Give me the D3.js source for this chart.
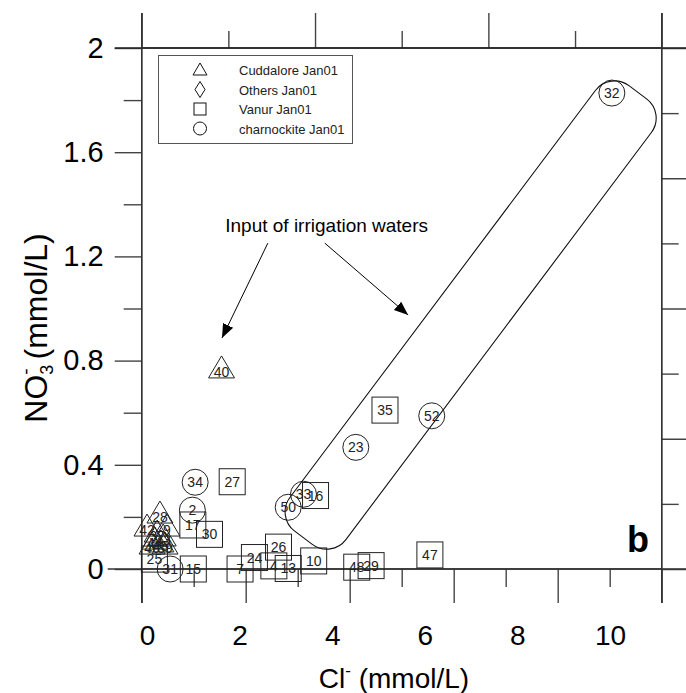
<!DOCTYPE html>
<html><head><meta charset="utf-8">
<script src="https://cdn.jsdelivr.net/npm/d3@7/dist/d3.min.js"></script>
<style>body{margin:0;background:#fff}text{font-family:"Liberation Sans",Arial,sans-serif}</style>
</head><body>
<svg id="c" width="686" height="693"></svg>
<script>
// ---- data ----
const xTickLabels = [0, 2, 4, 6, 8, 10];
const yTickLabels = [0, 0.4, 0.8, 1.2, 1.6, 2];
const legendNames = ["Cuddalore Jan01", "Others Jan01", "Vanur Jan01", "charnockite Jan01"];

// Cuddalore Jan01 (triangles)
const cuddaloreId = ["40", "28", "42", "9", "37", "43", "44", "45", "46", "39"];
const cuddaloreCl = [1.61, 0.28, 0.0, 0.43, 0.22, 0.35, 0.17, 0.30, 0.11, 0.39];
const cuddaloreNO3 = [0.768, 0.211, 0.161, 0.161, 0.138, 0.123, 0.111, 0.100, 0.092, 0.092];

// Vanur Jan01 (squares)
const vanurId = ["35", "27", "17", "30", "15", "25", "16", "26", "24", "4", "13", "10", "48", "29", "47", "7"];
const vanurCl = [5.14, 1.84, 0.99, 1.35, 1.00, 0.16, 3.64, 2.84, 2.32, 2.74, 3.05, 3.60, 4.53, 4.84, 6.11, 2.01];
const vanurNO3 = [0.610, 0.335, 0.169, 0.133, 0.0, 0.038, 0.282, 0.084, 0.044, 0.012, 0.002, 0.031, 0.007, 0.013, 0.054, 0.0];

// charnockite Jan01 (circles)
const charnId = ["32", "52", "23", "33", "50", "34", "2", "31"];
const charnCl = [10.04, 6.15, 4.51, 3.38, 3.05, 1.04, 0.98, 0.50];
const charnNO3 = [1.827, 0.588, 0.467, 0.287, 0.237, 0.333, 0.226, 0.0];

// annotation (data units)
const noteText = "Input of irrigation waters";
const notePos = [1.69, 1.294];
const arrowStarts = [[2.61, 1.251], [3.84, 1.251]];
const arrowEnds = [[1.62, 0.887], [5.64, 0.975]];
const envelopeEnds = [[3.38, 0.12], [10.6, 1.83]];

// ---- drawing ----
const svg = d3.select("#c");
const W = 686, H = 693;
// data scales (labels)
const x = d3.scaleLinear().domain([0, 10]).range([147, 610]);
const y = d3.scaleLinear().domain([0, 2]).range([569, 48]);
// frame tick scales
const xFrame = d3.scaleLinear().domain([0, 10]).range([141.7, 661.7]);
const xTop = d3.scaleLinear().domain([0, 6]).range([141.7, 661.7]);
const yRight = d3.scaleLinear().domain([0, 8]).range([569, 48]);
const L0 = xFrame(0), R0 = xFrame(10), T0 = y(2), B0 = y(0);

const tickCol = "#444";
function styleAxis(g, showText, fs) {
  g.select(".domain").remove();
  g.selectAll(".tick line").attr("stroke", tickCol).attr("stroke-width", 1.4);
  if (!showText) g.selectAll(".tick text").remove();
  else g.selectAll(".tick text").attr("fill", "#000").style("font-size", fs + "px").style("font-family", "'Liberation Sans',Arial,sans-serif");
}
// bottom frame ticks
svg.append("g").attr("transform", `translate(0,${B0})`)
  .call(d3.axisBottom(xFrame).tickValues([1, 3, 5, 7, 9]).tickSize(18).tickFormat(""))
  .call(g => styleAxis(g, false));
svg.append("g").attr("transform", `translate(0,${B0})`)
  .call(d3.axisBottom(xFrame).tickValues([0, 2, 4, 6, 8, 10]).tickSize(34).tickFormat(""))
  .call(g => styleAxis(g, false));
// bottom labels
svg.append("g").attr("transform", `translate(0,${B0})`)
  .call(d3.axisBottom(x).tickValues(xTickLabels).tickSize(0).tickPadding(56).tickFormat(d3.format("d")))
  .call(g => styleAxis(g, true, 28));
// left
svg.append("g").attr("transform", `translate(${L0},0)`)
  .call(d3.axisLeft(y).tickValues(d3.range(0.2, 2, 0.4)).tickSize(18).tickFormat(""))
  .call(g => styleAxis(g, false));
svg.append("g").attr("transform", `translate(${L0},0)`)
  .call(d3.axisLeft(y).tickValues(yTickLabels).tickSize(27).tickPadding(11).tickFormat(d => d === 0 || d === 2 ? d3.format("d")(d) : d3.format(".1f")(d)))
  .call(g => styleAxis(g, true, 29));
// top
svg.append("g").attr("transform", `translate(0,${T0})`)
  .call(d3.axisTop(xTop).tickValues([1, 3, 5]).tickSize(17).tickFormat(""))
  .call(g => styleAxis(g, false));
svg.append("g").attr("transform", `translate(0,${T0})`)
  .call(d3.axisTop(xTop).tickValues([0, 2, 4, 6]).tickSize(35).tickFormat(""))
  .call(g => styleAxis(g, false));
// right
svg.append("g").attr("transform", `translate(${R0},0)`)
  .call(d3.axisRight(yRight).tickValues([1, 3, 5, 7]).tickSize(17).tickFormat(""))
  .call(g => styleAxis(g, false));
svg.append("g").attr("transform", `translate(${R0},0)`)
  .call(d3.axisRight(yRight).tickValues([0, 2, 4, 6, 8]).tickSize(35).tickFormat(""))
  .call(g => styleAxis(g, false));
// frame
svg.append("rect").attr("x", L0).attr("y", T0).attr("width", R0 - L0).attr("height", B0 - T0)
  .attr("fill", "none").attr("stroke", "#222").attr("stroke-width", 1.4);
svg.append("line").attr("x1", L0 - 34).attr("x2", W).attr("y1", B0).attr("y2", B0).attr("stroke", "#333").attr("stroke-width", 1.4);
svg.append("line").attr("x1", L0 - 27).attr("x2", W).attr("y1", T0).attr("y2", T0).attr("stroke", "#222").attr("stroke-width", 1.4);
svg.append("line").attr("x1", L0).attr("x2", L0).attr("y1", T0 - 35).attr("y2", B0 + 34).attr("stroke", "#333").attr("stroke-width", 1.4);
svg.append("line").attr("x1", R0).attr("x2", R0).attr("y1", T0 - 35).attr("y2", B0 + 34).attr("stroke", "#333").attr("stroke-width", 1.4);

// axis titles
const xt = svg.append("text").attr("x", 394).attr("y", 688).attr("text-anchor", "middle").style("font-size", "28px");
xt.append("tspan").text("Cl");
xt.append("tspan").text("-").style("font-size", "17px").attr("dy", "-12");
xt.append("tspan").text(" (mmol/L)").attr("dy", "12");

const yt = svg.append("text").attr("transform", `translate(47,328) rotate(-90)`).attr("text-anchor", "middle").style("font-size", "32px");
yt.append("tspan").text("NO");
yt.append("tspan").text("3").style("font-size", "18px").attr("dy", "6");
yt.append("tspan").text("-").style("font-size", "19px").attr("dy", "-21").attr("dx", "-10");
yt.append("tspan").text(" (mmol/L)").attr("dy", "15");

// envelope
{
  const p1 = [x(envelopeEnds[0][0]), y(envelopeEnds[0][1])];
  const p2 = [x(envelopeEnds[1][0]), y(envelopeEnds[1][1])];
  const L = Math.hypot(p2[0] - p1[0], p2[1] - p1[1]);
  const ang = Math.atan2(p2[1] - p1[1], p2[0] - p1[0]) * 180 / Math.PI;
  const cx = (p1[0] + p2[0]) / 2, cy = (p1[1] + p2[1]) / 2;
  svg.append("rect").attr("x", -L / 2).attr("y", -35).attr("width", L).attr("height", 70).attr("rx", 24)
    .attr("transform", `translate(${cx},${cy}) rotate(${ang})`)
    .attr("fill", "none").attr("stroke", "#111").attr("stroke-width", 1.1);
}

// annotation
svg.append("defs").append("marker").attr("id", "ah").attr("viewBox", "0 0 10 10").attr("refX", 10).attr("refY", 5)
  .attr("markerWidth", 14).attr("markerHeight", 14).attr("markerUnits", "userSpaceOnUse").attr("orient", "auto")
  .append("path").attr("d", "M0,1 L10,5 L0,9 Z").attr("fill", "#000");
svg.append("text").attr("x", x(notePos[0])).attr("y", y(notePos[1])).style("font-size", "19px").text(noteText);
arrowStarts.forEach((s, i) => {
  svg.append("line").attr("x1", x(s[0])).attr("y1", y(s[1])).attr("x2", x(arrowEnds[i][0])).attr("y2", y(arrowEnds[i][1]))
    .attr("stroke", "#000").attr("stroke-width", 1).attr("marker-end", "url(#ah)");
});

// markers
const mk = "#222";
const vanur = vanurId.map((id, i) => ({ id, cx: x(vanurCl[i]), cy: y(vanurNO3[i]) }));
const charn = charnId.map((id, i) => ({ id, cx: x(charnCl[i]), cy: y(charnNO3[i]) }));
const cudd = cuddaloreId.map((id, i) => ({ id, cx: x(cuddaloreCl[i]), cy: y(cuddaloreNO3[i]) }));

svg.append("g").selectAll("rect").data(vanur).join("rect")
  .attr("x", d => d.cx - 13).attr("y", d => d.cy - 13).attr("width", 26).attr("height", 26)
  .attr("fill", "none").attr("stroke", mk).attr("stroke-width", 1);
svg.append("g").selectAll("circle").data(charn).join("circle")
  .attr("cx", d => d.cx).attr("cy", d => d.cy).attr("r", 13)
  .attr("fill", "none").attr("stroke", mk).attr("stroke-width", 1);
svg.append("g").selectAll("path").data(cudd).join("path")
  .attr("d", d => `M${d.cx},${d.cy - 13}L${d.cx + 13},${d.cy + 9}L${d.cx - 13},${d.cy + 9}Z`)
  .attr("fill", "none").attr("stroke", mk).attr("stroke-width", 1);

const labG = svg.append("g").style("font-size", "14px").attr("fill", "#222").attr("text-anchor", "middle");
labG.selectAll("text.v").data(vanur).join("text").attr("class", "v").attr("x", d => d.cx).attr("y", d => d.cy + 5).text(d => d.id);
labG.selectAll("text.c").data(charn).join("text").attr("class", "c").attr("x", d => d.cx).attr("y", d => d.cy + 5).text(d => d.id);
labG.selectAll("text.t").data(cudd).join("text").attr("class", "t").attr("x", d => d.cx).attr("y", d => d.cy + 8).text(d => d.id);

// "b" panel letter
svg.append("text").attr("x", 638).attr("y", 552).attr("text-anchor", "middle").style("font-size", "36px").style("font-weight", "bold").text("b");

// legend
{
  const lg = svg.append("g");
  lg.append("rect").attr("x", 158.5).attr("y", 55.5).attr("width", 194).attr("height", 88)
    .attr("fill", "#fff").attr("stroke", "#555").attr("stroke-width", 1);
  const rows = [70, 89.5, 109, 128.5];
  const sx = 200;
  lg.append("path").attr("d", `M${sx},${rows[0] - 7}L${sx + 7},${rows[0] + 5}L${sx - 7},${rows[0] + 5}Z`).attr("fill", "none").attr("stroke", "#111");
  lg.append("path").attr("d", `M${sx},${rows[1] - 8}L${sx + 5},${rows[1]}L${sx},${rows[1] + 8}L${sx - 5},${rows[1]}Z`).attr("fill", "none").attr("stroke", "#111");
  lg.append("rect").attr("x", sx - 6).attr("y", rows[2] - 6).attr("width", 12).attr("height", 12).attr("fill", "none").attr("stroke", "#111");
  lg.append("circle").attr("cx", sx).attr("cy", rows[3]).attr("r", 6.5).attr("fill", "none").attr("stroke", "#111");
  legendNames.forEach((n, i) => {
    lg.append("text").attr("x", 239).attr("y", rows[i] + 5).style("font-size", "13px").attr("fill", "#222").text(n);
  });
}
</script>
</body></html>
